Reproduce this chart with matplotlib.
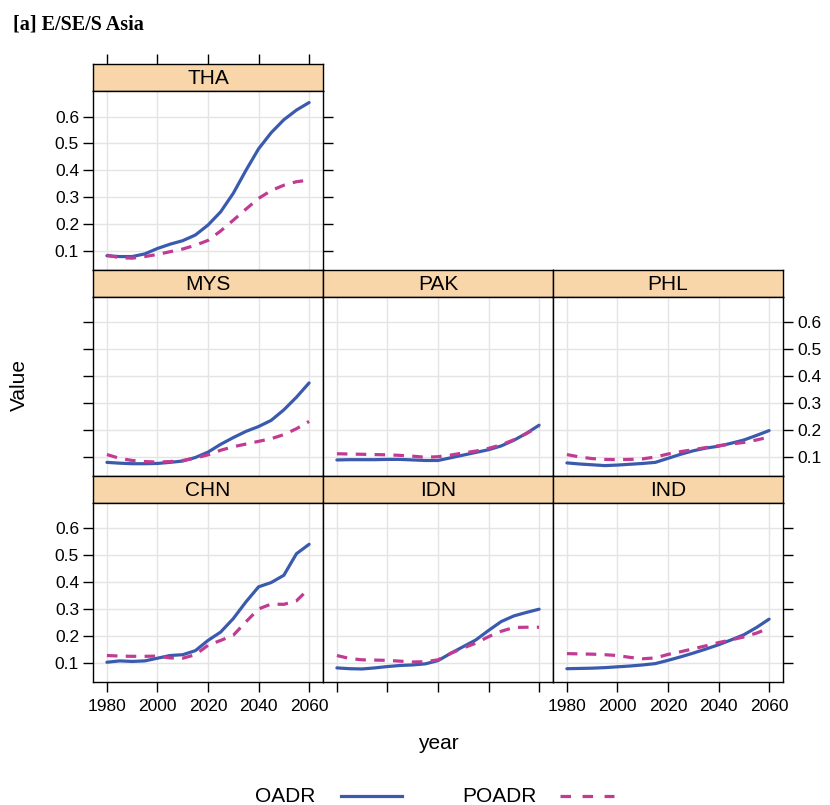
import matplotlib
matplotlib.use("Agg")
import matplotlib.pyplot as plt
from matplotlib.lines import Line2D

plt.rcParams['font.family'] = ['Liberation Sans', 'DejaVu Sans']

# ---------------- data ----------------
years = [1980, 1985, 1990, 1995, 2000, 2005, 2010, 2015, 2020,
         2025, 2030, 2035, 2040, 2045, 2050, 2055, 2060]

THA_OADR = [0.083, 0.080, 0.080, 0.090, 0.110, 0.126, 0.139, 0.160, 0.197,
            0.246, 0.315, 0.400, 0.480, 0.540, 0.588, 0.624, 0.652]
THA_POADR = [0.085, 0.076, 0.074, 0.080, 0.088, 0.098, 0.108, 0.122, 0.140,
             0.175, 0.215, 0.256, 0.296, 0.325, 0.345, 0.358, 0.364]

MYS_OADR = [0.080, 0.077, 0.075, 0.075, 0.076, 0.080, 0.085, 0.098, 0.118,
            0.147, 0.172, 0.195, 0.213, 0.236, 0.275, 0.322, 0.375]
MYS_POADR = [0.109, 0.095, 0.087, 0.083, 0.081, 0.083, 0.087, 0.096, 0.108,
             0.125, 0.138, 0.148, 0.158, 0.168, 0.183, 0.205, 0.232]

PAK_OADR = [0.089, 0.090, 0.090, 0.090, 0.091, 0.091, 0.089, 0.087, 0.087,
            0.097, 0.107, 0.117, 0.127, 0.141, 0.162, 0.188, 0.218]
PAK_POADR = [0.112, 0.111, 0.110, 0.109, 0.108, 0.106, 0.103, 0.099, 0.101,
             0.107, 0.115, 0.122, 0.132, 0.145, 0.164, 0.187, 0.214]

PHL_OADR = [0.078, 0.074, 0.071, 0.068, 0.070, 0.073, 0.076, 0.080, 0.095,
            0.110, 0.123, 0.133, 0.140, 0.151, 0.163, 0.180, 0.198]
PHL_POADR = [0.109, 0.100, 0.094, 0.091, 0.090, 0.091, 0.093, 0.100, 0.111,
             0.120, 0.127, 0.135, 0.142, 0.148, 0.154, 0.163, 0.174]

CHN_OADR = [0.102, 0.107, 0.105, 0.107, 0.117, 0.127, 0.130, 0.145, 0.183,
            0.214, 0.264, 0.326, 0.382, 0.398, 0.425, 0.505, 0.540]
CHN_POADR = [0.127, 0.125, 0.124, 0.124, 0.125, 0.118, 0.117, 0.130, 0.165,
             0.183, 0.202, 0.252, 0.300, 0.318, 0.317, 0.330, 0.376]

IDN_OADR = [0.081, 0.078, 0.077, 0.081, 0.086, 0.090, 0.092, 0.096, 0.108,
            0.135, 0.160, 0.185, 0.220, 0.253, 0.274, 0.287, 0.299]
IDN_POADR = [0.127, 0.116, 0.111, 0.110, 0.109, 0.106, 0.103, 0.104, 0.111,
             0.135, 0.155, 0.173, 0.197, 0.217, 0.231, 0.232, 0.232]

IND_OADR = [0.078, 0.079, 0.080, 0.082, 0.085, 0.088, 0.092, 0.097, 0.109,
            0.122, 0.136, 0.151, 0.167, 0.185, 0.204, 0.231, 0.262]
IND_POADR = [0.134, 0.133, 0.132, 0.130, 0.127, 0.120, 0.115, 0.118, 0.131,
             0.141, 0.152, 0.163, 0.175, 0.185, 0.196, 0.210, 0.229]

countries = ['THA', 'MYS', 'PAK', 'PHL', 'CHN', 'IDN', 'IND']
series_oadr = {'THA': THA_OADR, 'MYS': MYS_OADR, 'PAK': PAK_OADR, 'PHL': PHL_OADR,
               'CHN': CHN_OADR, 'IDN': IDN_OADR, 'IND': IND_OADR}
series_poadr = {'THA': THA_POADR, 'MYS': MYS_POADR, 'PAK': PAK_POADR, 'PHL': PHL_POADR,
                'CHN': CHN_POADR, 'IDN': IDN_POADR, 'IND': IND_POADR}

xticks = [1980, 2000, 2020, 2040, 2060]
yticks = [0.1, 0.2, 0.3, 0.4, 0.5, 0.6]
ytick_labels = ['0.1', '0.2', '0.3', '0.4', '0.5', '0.6']
legend_labels = ['OADR', 'POADR']

# ---------------- style ----------------
W, H = 830, 805
BLUE = '#3a5bad'
MAG = '#c23b93'
STRIP = '#f9d6aa'
GRID = '#e4e4e4'
XLIM = (1974.5, 2065.5)
YLIM = (0.029, 0.693)

fig = plt.figure(figsize=(W / 100, H / 100), dpi=100)


def px_axes(l, t, w, h):
    return fig.add_axes([l / W, 1 - (t + h) / H, w / W, h / H])


col_left = [93, 323, 553]
col_w = 230
row_top0 = 64.5
row_pitch = 205.8
strip_h = 27
panel_h = row_pitch - strip_h

layout = {'THA': (0, 0), 'MYS': (1, 0), 'PAK': (1, 1), 'PHL': (1, 2),
          'CHN': (2, 0), 'IDN': (2, 1), 'IND': (2, 2)}

TL = 7.5
TICKFS = 12.5

for c in countries:
    r, k = layout[c]
    top = row_top0 + r * row_pitch
    left = col_left[k]
    # strip
    sax = px_axes(left, top, col_w, strip_h)
    sax.set_facecolor(STRIP)
    sax.set_xlim(*XLIM)
    sax.set_ylim(0, 1)
    sax.set_yticks([])
    for sp in sax.spines.values():
        sp.set_linewidth(1.0)
        sp.set_color('black')
    sax.text(0.5, 0.47, c, transform=sax.transAxes, ha='center', va='center',
             fontsize=15, color='black')
    if r == 0:
        sax.set_xticks(xticks)
        sax.tick_params(axis='x', which='both', bottom=False, top=True,
                        labelbottom=False, labeltop=False, length=TL, width=1.0)
    else:
        sax.set_xticks([])

    # panel
    ax = px_axes(left, top + strip_h, col_w, panel_h)
    ax.set_xlim(*XLIM)
    ax.set_ylim(*YLIM)
    ax.set_xticks(xticks)
    ax.set_yticks(yticks)
    ax.set_yticklabels(ytick_labels)
    ax.set_axisbelow(True)
    ax.grid(True, color=GRID, linewidth=1.0)
    for sp in ax.spines.values():
        sp.set_linewidth(1.0)
        sp.set_color('black')

    ax.plot(years, series_oadr[c], color=BLUE, lw=2.3, solid_capstyle='round',
            solid_joinstyle='round', zorder=3)
    ax.plot(years, series_poadr[c], color=MAG, lw=2.3, dashes=(3.3, 2.6), zorder=3)

    left_ticks = (k == 0)
    left_labels = c in ('THA', 'CHN')
    right_ticks = c in ('THA', 'PHL', 'IND')
    right_labels = (c == 'PHL')
    bottom_ticks = (r == 2)
    bottom_labels = c in ('CHN', 'IND')

    ax.tick_params(axis='y', left=left_ticks, right=right_ticks,
                   labelleft=left_labels, labelright=right_labels,
                   length=TL, width=1.0, pad=2.5, labelsize=TICKFS)
    ax.tick_params(axis='x', bottom=bottom_ticks, top=False,
                   labelbottom=bottom_labels, labeltop=False,
                   length=TL, width=1.0, pad=5, labelsize=TICKFS)

# axis labels
fig.text(19.5 / W, 1 - 385 / H, 'Value', rotation=90, ha='center', va='center', fontsize=15)
fig.text(438 / W, 1 - 743 / H, 'year', ha='center', va='center', fontsize=15)

# title
fig.text(13 / W, 1 - 25 / H, '[a] E/SE/S Asia', ha='left', va='center', fontsize=14.5,
         fontweight='bold', family=['Liberation Serif', 'DejaVu Serif'])

# legend
ly = 1 - 796 / H
fig.text(255 / W, ly, legend_labels[0], ha='left', va='center', fontsize=15)
fig.add_artist(Line2D([341 / W, 402 / W], [ly, ly], color=BLUE, lw=2.3,
                      transform=fig.transFigure))
fig.text(462 / W, ly, legend_labels[1], ha='left', va='center', fontsize=15)
fig.add_artist(Line2D([560 / W, 614 / W], [ly, ly], color=MAG, lw=2.3,
                      dashes=(3.3, 3.6), transform=fig.transFigure))

fig.savefig('out.png', dpi=100, facecolor='white')
